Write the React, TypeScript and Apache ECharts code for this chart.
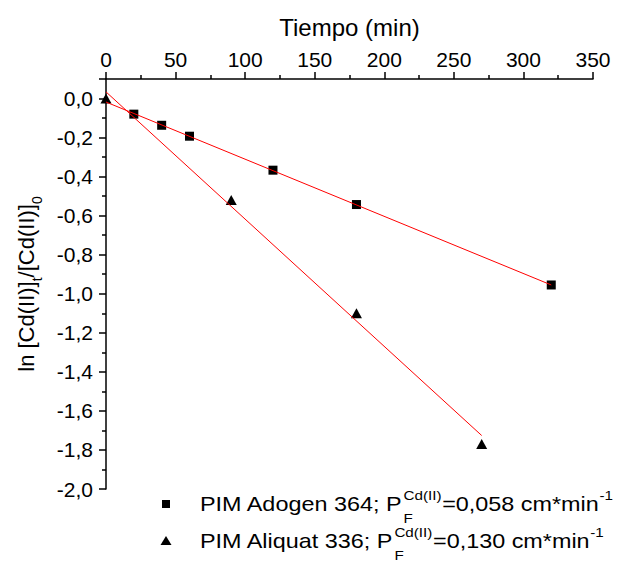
import React, { useEffect, useRef } from "react";
import * as echarts from "echarts";

const xTicks = [0, 50, 100, 150, 200, 250, 300, 350];
const timeAdogen = [20, 40, 60, 120, 180, 320];
const lnAdogen = [-0.08, -0.137, -0.193, -0.367, -0.543, -0.955];
const timeAliquat = [0, 90, 180, 270];
const lnAliquat = [0.0, -0.52, -1.1, -1.77];
const fitAdogenX = [0, 320];
const fitAdogenY = [-0.018, -0.955];
const fitAliquatX = [0, 270];
const fitAliquatY = [0.034, -1.726];
const legendAdogen = { pre: "PIM Adogen 364; P", sup: "Cd(II)", sub: "F", post: "=0,058 cm*min", exp: "-1" };
const legendAliquat = { pre: "PIM Aliquat 336; P", sup: "Cd(II)", sub: "F", post: "=0,130 cm*min", exp: "-1" };

const FONT = "Liberation Sans, Arial, Helvetica, sans-serif";

function measure(text: string, size: number): number {
  const c = document.createElement("canvas").getContext("2d");
  if (!c) return text.length * size * 0.55;
  c.font = `${size}px ${FONT}`;
  return c.measureText(text).width;
}

function legendRow(item: typeof legendAdogen, x: number, y: number, sx: number) {
  const main = 20;
  const small = 13;
  const w1 = measure(item.pre, main);
  const wSup = measure(item.sup, small);
  const wSub = measure(item.sub, small);
  const x2 = w1 + Math.max(wSup, wSub) + 1;
  const w2 = measure(item.post, main);
  const mk = (text: string, lx: number, ly: number, size: number) => ({
    type: "text",
    x: lx,
    y: ly,
    style: { text, fontSize: size, fontFamily: FONT, fill: "#000", align: "left", verticalAlign: "middle" },
  });
  return {
    type: "group",
    x,
    y,
    scaleX: sx,
    children: [
      mk(item.pre, 0, 0, main),
      mk(item.sup, w1 + 0.5, -9, small),
      mk(item.sub, w1 + 0.5, 14, small),
      mk(item.post, x2, 0, main),
      mk(item.exp, x2 + w2 + 0.5, -9, small),
    ],
  };
}

export default function App() {
  const ref = useRef<HTMLDivElement>(null);
  useEffect(() => {
    if (!ref.current) return;
    const chart = echarts.init(ref.current, null, { renderer: "svg" });
    const fmt = (v: number) => (Math.abs(v) < 1e-9 ? "0,0" : v.toFixed(1).replace(".", ","));
    const option: any = {
      animation: false,
      backgroundColor: "#fff",
      textStyle: { fontFamily: FONT },
      grid: { left: 105, right: 26, top: 79, bottom: 75, containLabel: false },
      xAxis: {
        type: "value",
        position: "top",
        min: 0,
        max: 350,
        interval: 50,
        name: "Tiempo (min)",
        nameLocation: "middle",
        nameGap: 40,
        nameTextStyle: { fontSize: 24, color: "#000", fontFamily: FONT },
        axisLine: { show: true, onZero: false, lineStyle: { color: "#000", width: 1.5 } },
        axisTick: { show: true, inside: false, length: 7, lineStyle: { color: "#000", width: 1.5 } },
        minorTick: { show: true, splitNumber: 2, length: 4, lineStyle: { color: "#000", width: 1.5 } },
        axisLabel: {
          margin: 9,
          fontSize: 21,
          color: "#000",
          fontFamily: FONT,
          formatter: (v: number) => (xTicks.includes(v) ? String(v) : ""),
        },
        splitLine: { show: false },
      },
      yAxis: {
        type: "value",
        min: -2,
        max: 0.1,
        interval: 0.2,
        name: "ln [Cd(II)]{s|t}/[Cd(II)]{s|0}",
        nameLocation: "middle",
        nameGap: 62,
        nameTextStyle: {
          fontSize: 22,
          color: "#000",
          fontFamily: FONT,
          lineHeight: 36,
          rich: { s: { fontSize: 14, lineHeight: 15, verticalAlign: "bottom", color: "#000", fontFamily: FONT } },
        },
        axisLine: { show: true, onZero: false, lineStyle: { color: "#000", width: 1.5 } },
        axisTick: { show: true, inside: false, length: 7, lineStyle: { color: "#000", width: 1.5 } },
        minorTick: { show: true, splitNumber: 2, length: 4, lineStyle: { color: "#000", width: 1.5 } },
        axisLabel: { margin: 13, fontSize: 21, color: "#000", fontFamily: FONT, formatter: fmt, showMaxLabel: false },
        splitLine: { show: false },
      },
      series: [
        {
          type: "scatter",
          symbol: "rect",
          symbolSize: 9,
          itemStyle: { color: "#000", opacity: 1 },
          data: timeAdogen.map((t, i) => [t, lnAdogen[i]]),
          z: 2,
        },
        {
          type: "scatter",
          symbol: "triangle",
          symbolSize: [11, 10],
          itemStyle: { color: "#000", opacity: 1 },
          data: timeAliquat.map((t, i) => [t, lnAliquat[i]]),
          z: 2,
        },
        {
          type: "line",
          showSymbol: false,
          symbol: "none",
          lineStyle: { color: "#ff0000", width: 1 },
          data: fitAdogenX.map((t, i) => [t, fitAdogenY[i]]),
          z: 3,
        },
        {
          type: "line",
          showSymbol: false,
          symbol: "none",
          lineStyle: { color: "#ff0000", width: 1 },
          data: fitAliquatX.map((t, i) => [t, fitAliquatY[i]]),
          z: 3,
        },
      ],
      graphic: [
        { type: "rect", shape: { x: 162, y: 500, width: 8, height: 8 }, style: { fill: "#000" } },
        { type: "polygon", shape: { points: [[166, 536], [171.5, 545], [160.5, 545]] }, style: { fill: "#000" } },
        legendRow(legendAdogen, 200, 504, 1.17),
        legendRow(legendAliquat, 200, 541.5, 1.17),
      ],
    };
    chart.setOption(option);
    return () => chart.dispose();
  }, []);
  return <div ref={ref} style={{ position: "fixed", left: 0, top: 0, width: 619, height: 564 }} />;
}
